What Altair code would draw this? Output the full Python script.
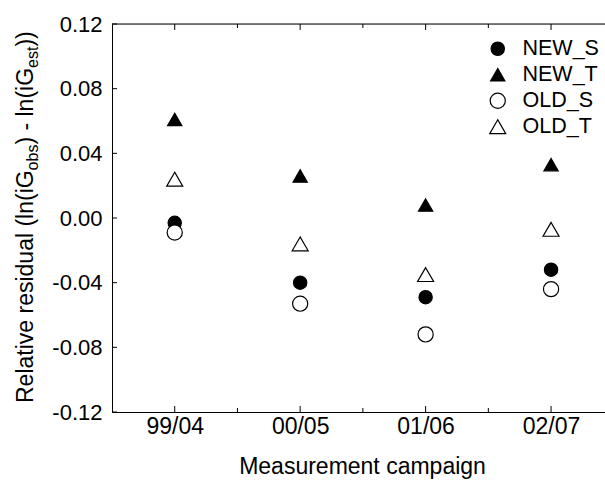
import json
import altair as alt
import pandas as pd

# ---- data ----
campaigns = ["99/04", "00/05", "01/06", "02/07"]
series_names = ["NEW_S", "NEW_T", "OLD_S", "OLD_T"]
new_s = [-0.003, -0.040, -0.049, -0.032]
new_t = [0.061, 0.026, 0.008, 0.033]
old_s = [-0.009, -0.053, -0.072, -0.044]
old_t = [0.024, -0.016, -0.035, -0.007]
y_ticks = [-0.12, -0.08, -0.04, 0.0, 0.04, 0.08, 0.12]
x_major = [0, 1, 2, 3]
x_minor = [0.5, 1.5, 2.5]

FONT = "Liberation Sans"
W, H = 493, 388
PAD = {"left": 112, "top": 24, "right": 0, "bottom": 74}

rows = []
for name, vals in zip(series_names, [new_s, new_t, old_s, old_t]):
    for i, v in enumerate(vals):
        rows.append({"idx": i, "campaign": campaigns[i], "series": name, "value": v})
df = pd.DataFrame(rows)

xscale = alt.Scale(domain=[-0.5, 3.43], nice=False, zero=False)
yscale = alt.Scale(domain=[-0.12, 0.12], nice=False, zero=False)
label_expr = json.dumps(campaigns).replace('"', "'") + "[datum.value]"

legend = alt.Legend(
    title=None, orient="none", legendX=375, legendY=14, padding=0,
    labelFont=FONT, labelFontSize=21.5, labelColor="black", labelOffset=14,
    rowPadding=3, symbolStrokeWidth=1.2,
)

points = alt.Chart(df).mark_point(strokeWidth=1.2, opacity=1).encode(
    x=alt.X("idx:Q", scale=xscale, axis=alt.Axis(
        orient="bottom", values=x_major, labelExpr=label_expr,
        ticks=False, tickSize=0, domain=True, domainColor="black", domainWidth=1,
        labelFont=FONT, labelFontSize=23, labelColor="black", labelPadding=3,
        grid=False, title="Measurement campaign", titleFont=FONT, titleFontSize=23,
        titleFontWeight="normal", titleColor="black", titleBaseline="alphabetic",
        titleY=61, titleX=250, titleAlign="center")),
    y=alt.Y("value:Q", scale=yscale, axis=alt.Axis(
        orient="left", values=y_ticks,
        labelExpr="(datum.value < -0.0001 ? '-' : '') + format(abs(datum.value), '.2f')",
        ticks=False, tickSize=0,
        domain=True, domainColor="black", domainWidth=1, grid=False,
        labelFont=FONT, labelFontSize=22, labelColor="black", labelPadding=10,
        title=None)),
    shape=alt.Shape("series:N", scale=alt.Scale(
        domain=series_names, range=["circle", "triangle-up", "circle", "triangle-up"]), legend=legend),
    fill=alt.Fill("series:N", scale=alt.Scale(
        domain=series_names, range=["black", "black", "white", "white"]), legend=legend),
    stroke=alt.Stroke("series:N", scale=alt.Scale(
        domain=series_names, range=["black", "black", "black", "black"]), legend=legend),
    size=alt.Size("series:N", scale=alt.Scale(
        domain=series_names, range=[177, 256, 177, 256]), legend=legend),
)

# ---- inward ticks, positioned through the shared scales ----
def x_ticks(vals, y0, y1):
    return alt.Chart(pd.DataFrame({"idx": vals})).mark_rule(color="black", strokeWidth=1).encode(
        x=alt.X("idx:Q", scale=xscale),
        y=alt.value(y0), y2=alt.value(y1))

layers = [
    points,
    x_ticks(x_major, H, H - 6),
    x_ticks(x_minor, H, H - 4),
    x_ticks(x_major, 0, 6),
    x_ticks(x_minor, 0, 4),
    alt.Chart(pd.DataFrame({"value": y_ticks})).mark_rule(color="black", strokeWidth=1).encode(
        y=alt.Y("value:Q", scale=yscale),
        x=alt.value(0), x2=alt.value(5)),
    # top frame line
    alt.Chart(pd.DataFrame({"value": [0.12]})).mark_rule(color="black", strokeWidth=1).encode(
        y=alt.Y("value:Q", scale=yscale),
        x=alt.value(0), x2=alt.value(W + 5)),
]

# ---- y-axis title with subscripts, built from text pieces ----
title_pieces = [("Relative residual (ln(iG", 23, 0), ("obs", 16, 5),
                (") - ln(iG", 23, 0), ("est", 16, 5), ("))", 23, 0)]
# approximate Arial advance widths (em units)
adv = {"R": .722, "e": .556, "l": .222, "a": .556, "t": .278, "i": .222, "v": .5,
       " ": .278, "r": .333, "s": .5, "d": .556, "u": .556, "(": .333, ")": .333,
       "n": .556, "G": .778, "o": .556, "b": .556, "-": .333}
y_pos = 403 - PAD["top"]
base_x = 33 - PAD["left"]
for txt, fs, shift in title_pieces:
    layers.append(
        alt.Chart(pd.DataFrame({"t": [txt]})).mark_text(
            angle=270, align="left", baseline="alphabetic", font=FONT,
            fontSize=fs, color="black").encode(
            text="t:N", x=alt.value(base_x + shift), y=alt.value(y_pos)))
    y_pos -= sum(adv.get(c, .556) for c in txt) * fs

chart = alt.layer(*layers).properties(
    width=W, height=H,
    autosize=alt.AutoSizeParams(type="none"),
    padding=PAD,
).configure_view(stroke=None).configure(background="white")

chart.save("out.html", embed_options={"renderer": "svg", "actions": False})
